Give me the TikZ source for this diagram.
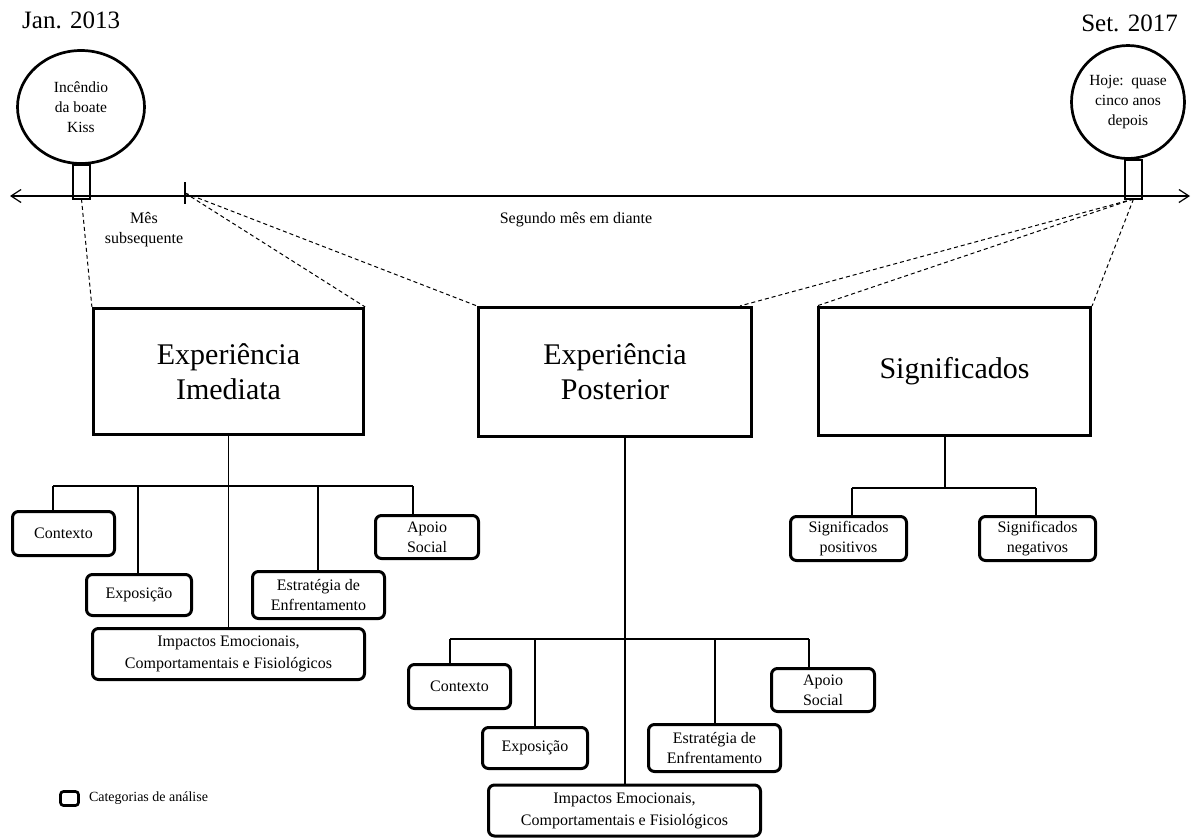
\documentclass[tikz,border=0pt]{standalone}
\usepackage{fontspec}
\setmainfont{Liberation Serif}
\usetikzlibrary{shapes.geometric,arrows.meta,positioning}
\newcommand{\marco}[5]{% #1: name of marker
                       % #2: centre of circle
                       % #3: foot of stem
                       % #4: width of circle
                       % #5: text of circle
    \node (#1) [bola, minimum width=#4, at={#2}] {#5};
    \coordinate (#1_pe) at #3;
    \coordinate (#1_topo) at (#1.south -| #1_pe);
    \draw[haste] ([xshift=-8.5pt]#1_pe) rectangle ([xshift=8.5pt]#1_topo);
   }

\begin{document}
\begin{tikzpicture}[x=1pt,y=-1pt,
    caixa/.style={draw, line width=3.2pt, inner sep=0pt, align=center,
                  font=\fontsize{30}{35}\selectfont},
    categoria/.style={draw, rounded corners=6pt, line width=3pt, inner sep=0pt,
                  align=center, font=\fontsize{16}{20}\selectfont},
    bola/.style={ellipse, draw, line width=2.7pt, inner sep=0pt, minimum height=113pt,
                  align=center, font=\fontsize{15.5}{20}\selectfont},
    haste/.style={line width=2.7pt},
    ramo/.style={line width=1.2pt},
    guia/.style={line width=1pt, dash pattern=on 4pt off 3pt},
    rotulo/.style={inner sep=0pt, align=center, font=\fontsize{16}{20}\selectfont}]

\useasboundingbox (0,0) rectangle (1192,839);

% linha do tempo
\coordinate (ini) at (10,196);
\coordinate (fim) at (1190,196);
\coordinate (marca) at (185,193);
\draw[line width=1.2pt,{Straight Barb[length=10pt,width=13pt]}-{Straight Barb[length=10pt,width=13pt]}] (ini)--(fim);
\draw[line width=1.2pt] (185,182)--(185,204);

\node (jan) [inner sep=0pt, anchor=base west, font=\fontsize{25}{30}\selectfont] at (22,28) {Jan. 2013};
\node (set) [inner sep=0pt, anchor=base east, font=\fontsize{25}{30}\selectfont] at (1178,31) {Set. 2017};

\marco{boate}{(81,107)}{(81.5,199)}{127pt}{Incêndio\\da boate\\Kiss};
\marco{hoje}{(1128,102)}{(1133.5,199)}{113pt}{Hoje:\ \ quase\\cinco anos\\depois};

\node (mes) [rotulo] at (144,230) {Mês\\subsequente};
\node (segundo) [rotulo] at (576,220) {Segundo mês em diante};

% categorias
\node (imed) [caixa, minimum width=270pt, minimum height=126pt] at (228.5,371.5) {Experiência\\Imediata};
\node (post) [caixa, minimum width=273pt, minimum height=129pt] at (615,372) {Experiência\\Posterior};
\node (sig)  [caixa, minimum width=272pt, minimum height=128pt] at (954.5,371.5) {Significados};

\draw[guia] (boate_pe)--(imed.north west);
\draw[guia] (marca)--(imed.north east);
\draw[guia] (marca)--(post.north west);
\draw[guia] (hoje_pe)--([xshift=-13pt]post.north east);
\draw[guia] (hoje_pe)--(sig.north west);
\draw[guia] (hoje_pe)--(sig.north east);

% experiencia imediata
\node (ctx1) [categoria, minimum width=102pt, minimum height=44pt] at (63.5,533.5) {Contexto};
\node (exp1) [categoria, minimum width=105pt, minimum height=41pt] at (139,595) {Exposição};
\node (est1) [categoria, minimum width=132pt, minimum height=47pt] at (318.5,595) {Estratégia de\\Enfrentamento};
\node (apo1) [categoria, minimum width=103pt, minimum height=43pt] at (427,537) {Apoio\\Social};
\node (imp1) [categoria, minimum width=272pt, minimum height=51pt, font=\fontsize{16}{22}\selectfont] at (228.5,654) {Impactos Emocionais,\\Comportamentais e Fisiológicos};

\coordinate (bar1_1) at (53,486);
\coordinate (bar1_2) at (138,486);
\coordinate (bar1_3) at (318,486);
\coordinate (bar1_4) at (413,486);

\draw[ramo] (imed.south)--(imp1.north);
\draw[ramo] (bar1_1)--(bar1_4);
\draw[ramo] (bar1_1)--(bar1_1 |- ctx1.north);
\draw[ramo] (bar1_2)--(bar1_2 |- exp1.north);
\draw[ramo] (bar1_3)--(bar1_3 |- est1.north);
\draw[ramo] (bar1_4)--(bar1_4 |- apo1.north);

% experiencia posterior
\node (ctx2) [categoria, minimum width=102pt, minimum height=44pt] at (459.5,686.5) {Contexto};
\node (exp2) [categoria, minimum width=105pt, minimum height=41pt] at (535,748) {Exposição};
\node (est2) [categoria, minimum width=132pt, minimum height=47pt] at (714.5,748) {Estratégia de\\Enfrentamento};
\node (apo2) [categoria, minimum width=103pt, minimum height=43pt] at (823,690) {Apoio\\Social};
\node (imp2) [categoria, minimum width=272pt, minimum height=51pt, font=\fontsize{16}{22}\selectfont] at (624.5,810.5) {Impactos Emocionais,\\Comportamentais e Fisiológicos};

\coordinate (bar2_0) at (625,639);
\coordinate (bar2_1) at (450,639);
\coordinate (bar2_2) at (535,639);
\coordinate (bar2_3) at (715,639);
\coordinate (bar2_4) at (809,639);

\draw[ramo] (bar2_0 |- post.south)--(bar2_0 |- imp2.north);
\draw[ramo] (bar2_1)--(bar2_4);
\draw[ramo] (bar2_1)--(bar2_1 |- ctx2.north);
\draw[ramo] (bar2_2)--(bar2_2 |- exp2.north);
\draw[ramo] (bar2_3)--(bar2_3 |- est2.north);
\draw[ramo] (bar2_4)--(bar2_4 |- apo2.north);

% significados
\node (pos) [categoria, minimum width=116pt, minimum height=44pt] at (848.5,538.5) {Significados\\positivos};
\node (neg) [categoria, minimum width=116pt, minimum height=44pt] at (1037.5,538.5) {Significados\\negativos};

\coordinate (bar3_0) at (945,488);
\coordinate (bar3_1) at (852,488);
\coordinate (bar3_2) at (1036,488);

\draw[ramo] (bar3_0 |- sig.south)--(bar3_0);
\draw[ramo] (bar3_1)--(bar3_2);
\draw[ramo] (bar3_1)--(bar3_1 |- pos.north);
\draw[ramo] (bar3_2)--(bar3_2 |- neg.north);

% legenda
\node (leg) [draw, rounded corners=3pt, line width=2.7pt, minimum width=18pt, minimum height=14pt, inner sep=0pt] at (69.5,798.5) {};
\node (legtxt) [right=9pt of leg, inner sep=0pt, font=\fontsize{14}{16}\selectfont] {Categorias de análise};
\end{tikzpicture}
\end{document}
